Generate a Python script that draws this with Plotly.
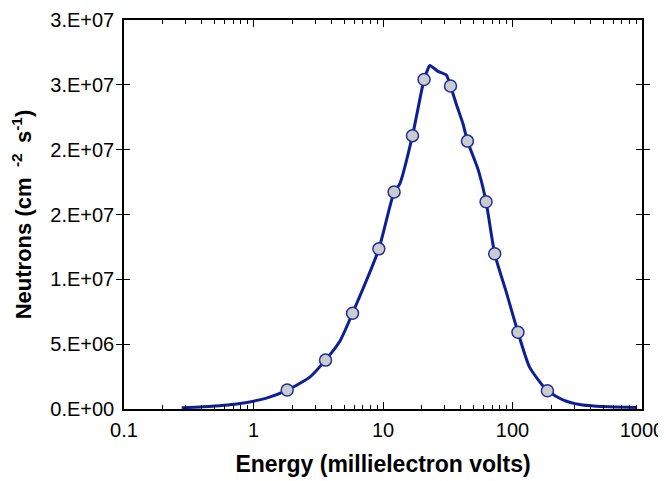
import plotly.graph_objects as go

# Curve (energy in meV, flux in neutrons cm^-2 s^-1)
curve_energy = [0.279, 0.409, 0.741, 1.26, 1.82, 2.72, 3.60, 4.64, 5.82, 9.29, 12.18, 13.48,
                16.89, 20.75, 22.0, 22.97, 26.6, 30.9, 33.2, 36.9, 41.5, 44.9, 54.2, 62.5,
                72.9, 89.8, 110.2, 135.8, 186, 245, 330, 444, 904]
curve_flux = [0.09e6, 0.17e6, 0.39e6, 0.84e6, 1.46e6, 2.46e6, 3.77e6, 5.22e6, 7.39e6, 12.35e6,
              16.73e6, 17.36e6, 21.08e6, 25.41e6, 26.11e6, 26.49e6, 26.04e6, 25.74e6, 24.91e6,
              23.48e6, 21.98e6, 20.66e6, 18.48e6, 15.98e6, 11.97e6, 8.97e6, 5.92e6, 3.21e6,
              1.41e6, 0.71e6, 0.34e6, 0.21e6, 0.12e6]

# Markers
marker_energy = [1.82, 3.60, 5.82, 9.29, 12.18, 16.89, 20.75, 33.2, 44.9, 62.5, 72.9, 110.2, 186]
marker_flux = [1.46e6, 3.77e6, 7.39e6, 12.35e6, 16.73e6, 21.08e6, 25.41e6, 24.91e6, 20.66e6,
               15.98e6, 11.97e6, 5.92e6, 1.41e6]

# Tick labels
y_tickvals = [0, 5e6, 1e7, 1.5e7, 2e7, 2.5e7, 3e7]
y_ticktext = ["0.E+00", "5.E+06", "1.E+07", "2.E+07", "2.E+07", "3.E+07", "3.E+07"]
x_tickvals = [0.1, 1, 10, 100, 1000]
x_ticktext = ["0.1", "1", "10", "100", "1000"]
x_minor_vals = [m * d for d in (0.1, 1, 10, 100) for m in range(2, 10)]

LINE = "#0d1f96"
FONT = "Liberation Sans, Arial, sans-serif"

fig = go.Figure()
fig.add_trace(go.Scatter(x=curve_energy, y=curve_flux, mode="lines",
                         line=dict(color=LINE, width=3, shape="spline", smoothing=0.6),
                         hoverinfo="skip"))
fig.add_trace(go.Scatter(x=marker_energy, y=marker_flux, mode="markers",
                         marker=dict(size=12, color="#cccccc",
                                     line=dict(color="#1f2f9c", width=1.5))))
# invisible traces to carry the minor-tick axes (bottom and top)
fig.add_trace(go.Scatter(x=[x_minor_vals[0]], y=[0], xaxis="x2", mode="markers",
                         marker=dict(opacity=0), hoverinfo="skip"))
fig.add_trace(go.Scatter(x=[x_minor_vals[0]], y=[0], xaxis="x3", mode="markers",
                         marker=dict(opacity=0), hoverinfo="skip"))

minor_axis = dict(
    type="log", range=[-1, 3], overlaying="x", anchor="y", automargin=False,
    tickvals=x_minor_vals, showticklabels=False,
    ticks="inside", ticklen=4, tickwidth=1.1, tickcolor="black",
    showline=True, linecolor="black", linewidth=1.5,
    showgrid=False, zeroline=False,
)

# the page body adds an 8px offset; margins compensate for it
fig.update_layout(
    width=666, height=481,
    margin=dict(l=116, r=32, t=12, b=80),
    paper_bgcolor="white", plot_bgcolor="white",
    showlegend=False,
    font=dict(family=FONT, color="black"),
    xaxis=dict(
        type="log", range=[-1, 3], automargin=False,
        tickvals=x_tickvals, ticktext=x_ticktext,
        ticks="inside", ticklen=7, tickwidth=1.3, tickcolor="black",
        showline=True, linecolor="black", linewidth=1.5, mirror="allticks",
        showgrid=False, zeroline=False,
        tickfont=dict(size=20, family=FONT),
        ticklabelstandoff=2, ticklabeloverflow="allow",
        title=dict(text="<b>Energy (millielectron volts)</b>",
                   font=dict(size=23, family=FONT), standoff=16),
    ),
    xaxis2=dict(side="bottom", **minor_axis),
    xaxis3=dict(side="top", **minor_axis),
    yaxis=dict(
        range=[0, 3e7], automargin=False,
        tickvals=y_tickvals, ticktext=y_ticktext,
        ticks="inside", ticklen=6, tickwidth=1.3, tickcolor="black",
        showline=True, linecolor="black", linewidth=1.5, mirror="allticks",
        showgrid=False, zeroline=False,
        tickfont=dict(size=20, family=FONT),
        ticklabelstandoff=4, ticklabeloverflow="allow",
        title=dict(text="<b>Neutrons (cm <sup> -2 </sup> s<sup>-1</sup>)</b>",
                   font=dict(size=22, family=FONT), standoff=18),
    ),
)

fig.write_html("out.html")
